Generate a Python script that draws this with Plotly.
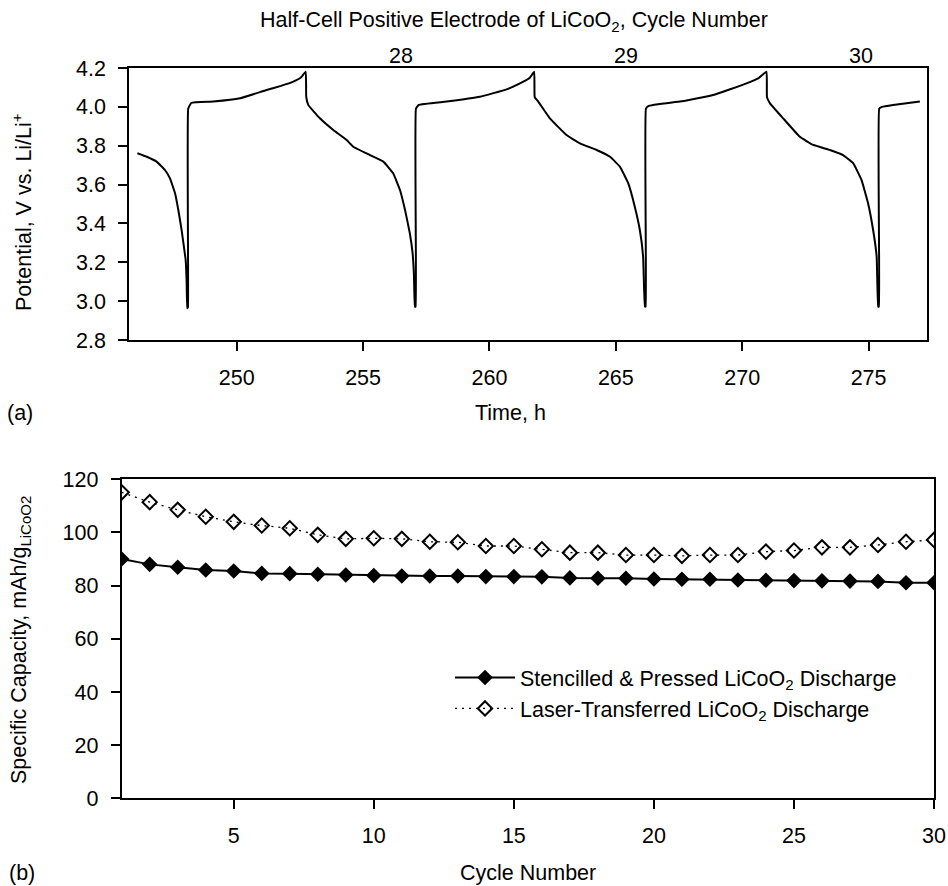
import plotly.graph_objects as go

# ---------- Panel (a): potential vs time ----------
time_h = [246.07, 246.44, 246.83, 247.16, 247.36, 247.56, 247.69, 247.82, 247.91, 247.98, 248.02, 248.04,
          248.07, 248.08, 248.20, 249.07, 250.13, 251.18, 251.75, 252.24, 252.55, 252.73,
          252.75, 252.83, 253.29, 253.82, 254.35, 254.61, 255.27, 255.80, 256.19, 256.46, 256.66, 256.85,
          256.96, 257.01, 257.05,
          257.08, 257.09, 257.20, 258.30, 259.62, 260.68, 261.34, 261.60, 261.77,
          261.79, 261.93, 262.39, 263.05, 263.58, 264.24, 264.77, 265.16, 265.49, 265.75, 265.95, 266.08, 266.15,
          266.18, 266.19, 266.30, 266.48, 267.53, 268.85, 270.17, 270.65, 270.96,
          270.98, 271.10, 271.62, 272.28, 272.81, 273.47, 273.99, 274.39, 274.72, 274.98, 275.18, 275.32, 275.38,
          275.41, 275.42, 275.53, 275.97, 277.03]
potential_V = [3.761, 3.743, 3.718, 3.675, 3.632, 3.555, 3.469, 3.366, 3.280, 3.212, 3.092, 2.963,
               2.970, 3.990, 4.020, 4.027, 4.044, 4.087, 4.108, 4.130, 4.152, 4.181,
               4.052, 4.010, 3.941, 3.881, 3.829, 3.795, 3.752, 3.718, 3.658, 3.572, 3.469, 3.349,
               3.246, 3.143, 2.972,
               2.972, 3.990, 4.010, 4.027, 4.052, 4.090, 4.130, 4.150, 4.181,
               4.050, 4.027, 3.941, 3.855, 3.812, 3.778, 3.743, 3.692, 3.607, 3.486, 3.366, 3.229, 2.972,
               2.972, 3.990, 4.005, 4.010, 4.027, 4.061, 4.121, 4.148, 4.181,
               4.050, 4.018, 3.941, 3.846, 3.804, 3.778, 3.752, 3.710, 3.624, 3.504, 3.366, 3.229, 2.972,
               2.972, 3.990, 4.000, 4.010, 4.027]

cycle_label_pos = [256.5, 265.4, 274.7]
cycle_label_text = ["28", "29", "30"]

# ---------- Panel (b): specific capacity vs cycle ----------
cycles = list(range(1, 31))
stencilled = [90.0, 88.0, 86.9, 85.9, 85.5, 84.6, 84.5, 84.3, 84.0, 83.8,
              83.6, 83.6, 83.6, 83.4, 83.4, 83.3, 82.9, 82.8, 82.8, 82.5,
              82.4, 82.4, 82.1, 82.0, 81.9, 81.8, 81.7, 81.6, 81.1, 81.1]
laser = [115.1, 111.4, 108.5, 105.9, 104.0, 102.6, 101.6, 99.1, 97.6, 97.8,
         97.6, 96.5, 96.3, 94.9, 94.9, 93.7, 92.4, 92.4, 91.5, 91.5,
         91.2, 91.5, 91.5, 92.8, 93.2, 94.4, 94.4, 95.3, 96.5, 97.2]

FONT = "Liberation Sans, Arial, sans-serif"
FS = 21.5
W, H = 948, 886

fig = go.Figure()

fig.add_trace(go.Scatter(x=time_h, y=potential_V, mode="lines",
                         line=dict(color="black", width=2, shape="spline", smoothing=0.3),
                         showlegend=False, hoverinfo="skip", xaxis="x", yaxis="y"))

fig.add_trace(go.Scatter(x=cycles, y=stencilled, mode="lines+markers",
                         name="Stencilled &amp; Pressed LiCoO<sub>2</sub> Discharge",
                         line=dict(color="black", width=2),
                         marker=dict(symbol="diamond", size=12, color="black"),
                         xaxis="x2", yaxis="y2"))
fig.add_trace(go.Scatter(x=cycles, y=laser, mode="lines+markers",
                         name="Laser-Transferred LiCoO<sub>2</sub> Discharge",
                         line=dict(color="black", width=1.3, dash="2px,5px"),
                         marker=dict(symbol="diamond-open", size=11, color="black",
                                     line=dict(width=2, color="black")),
                         xaxis="x2", yaxis="y2"))

def px_x(p):
    return p / W

def px_y(p):
    return 1 - p / H

axis_common = dict(showline=True, linecolor="black", linewidth=2, mirror=True,
                   ticks="outside", ticklen=9, tickwidth=2, tickcolor="black",
                   showgrid=False, zeroline=False, automargin=False,
                   tickfont=dict(family=FONT, size=FS, color="black"))

fig.update_layout(
    width=W, height=H, autosize=False,
    margin=dict(l=0, r=0, t=0, b=0),
    paper_bgcolor="white", plot_bgcolor="white",
    font=dict(family=FONT, size=FS, color="black"),
    hovermode=False,
    xaxis=dict(domain=[px_x(129.3), px_x(926.7)], anchor="y",
               range=[245.75, 277.3], tickvals=[250, 255, 260, 265, 270, 275],
               ticklabelstandoff=8, **axis_common),
    yaxis=dict(domain=[px_y(340), px_y(68)], anchor="x",
               range=[2.8, 4.2], tickvals=[2.8, 3.0, 3.2, 3.4, 3.6, 3.8, 4.0, 4.2],
               tickformat=".1f", ticklabelstandoff=8, **axis_common),
    xaxis3=dict(overlaying="x", anchor="y", side="top", range=[245.75, 277.3],
                tickvals=cycle_label_pos, ticktext=cycle_label_text,
                showline=False, ticks="", showgrid=False, zeroline=False, automargin=False,
                tickfont=dict(family=FONT, size=FS, color="black")),
    xaxis2=dict(domain=[px_x(121.7), px_x(934)], anchor="y2",
                range=[1, 30], tickvals=[5, 10, 15, 20, 25, 30],
                ticklabelstandoff=8, **axis_common),
    yaxis2=dict(domain=[px_y(798.3), px_y(479.3)], anchor="x2",
                range=[0, 120], tickvals=[0, 20, 40, 60, 80, 100, 120],
                ticklabelstandoff=8, **axis_common),
    legend=dict(x=px_x(450), y=px_y(657), xanchor="left", yanchor="top",
                bgcolor="rgba(0,0,0,0)", font=dict(family=FONT, size=FS, color="black"),
                itemwidth=60, tracegroupgap=0),
)

# dummy trace to activate xaxis3
fig.add_trace(go.Scatter(x=[250], y=[None], xaxis="x3", yaxis="y", showlegend=False,
                         hoverinfo="skip"))

ann = [
    dict(text="Half-Cell Positive Electrode of LiCoO<sub>2</sub>, Cycle Number",
         x=px_x(514), y=px_y(22)),
    dict(text="Time, h", x=px_x(510), y=px_y(413)),
    dict(text="(a)", x=px_x(20), y=px_y(413)),
    dict(text="Cycle Number", x=px_x(528), y=px_y(873)),
    dict(text="(b)", x=px_x(22), y=px_y(873)),
    dict(text="Potential, V vs. Li/Li<sup>+</sup>", x=px_x(22), y=px_y(212), textangle=-90),
    dict(text="Specific Capacity, mAh/g<sub>LiCoO2</sub>", x=px_x(20), y=px_y(640), textangle=-90),
]
for a in ann:
    fig.add_annotation(xref="paper", yref="paper", showarrow=False,
                       xanchor="center", yanchor="middle",
                       font=dict(family=FONT, size=FS, color="black"), **a)

fig.write_html("out.html", config={"displayModeBar": False, "staticPlot": True},
               post_script="document.body.style.margin='0';document.body.style.overflow='hidden';")
